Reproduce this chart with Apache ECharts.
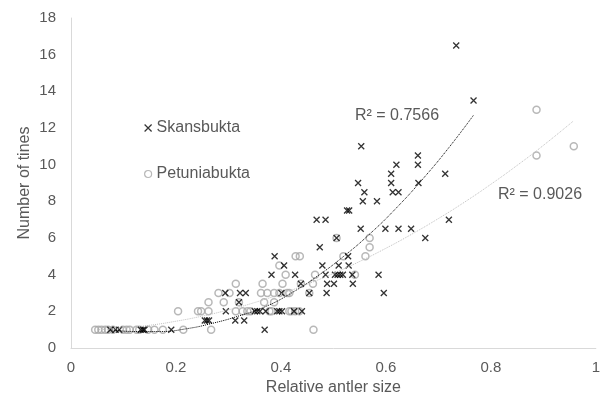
<!DOCTYPE html>
<html>
<head>
<meta charset="utf-8">
<script src="https://cdn.jsdelivr.net/npm/echarts@6/dist/echarts.min.js"></script>
<style>
  html, body { margin: 0; padding: 0; background: #fff; }
  #chart { width: 603px; height: 401px; }
</style>
</head>
<body>
<div id="chart"></div>
<script>
// Skansbukta (crosses)
var skX = [0.075,0.085,0.092,0.133,0.137,0.140,0.191,0.369,
  0.255,0.259,0.263,0.313,0.330,
  0.295,0.350,0.355,0.360,0.371,0.393,0.397,0.402,0.425,0.440,
  0.320,
  0.294,0.322,0.333,0.401,0.454,0.487,0.596,
  0.438,0.488,0.501,0.537,
  0.382,0.427,0.485,0.503,0.508,0.513,0.518,0.536,0.586,
  0.406,0.479,0.510,0.529,
  0.388,0.528,
  0.474,
  0.506,0.675,
  0.552,0.599,0.624,0.648,
  0.468,0.485,0.720,
  0.526,0.530,
  0.556,0.583,
  0.559,0.613,0.624,
  0.547,0.610,0.662,
  0.610,0.713,
  0.620,0.661,
  0.661,
  0.553,
  0.767,
  0.734];
var skY = [1,1,1,1,1,1,1,1,
  1.5,1.5,1.5,1.5,1.5,
  2,2,2,2,2,2,2,2,2,2,
  2.5,
  3,3,3,3,3,3,3,
  3.5,3.5,3.5,3.5,
  4,4,4,4,4,4,4,4,4,
  4.5,4.5,4.5,4.5,
  5,5,
  5.5,
  6,6,
  6.5,6.5,6.5,6.5,
  7,7,7,
  7.5,7.5,
  8,8,
  8.5,8.5,8.5,
  9,9,9,
  9.5,9.5,
  10,10,
  10.5,
  11,
  13.5,
  16.5];

// Petuniabukta (circles)
var ptX = [0.046,0.052,0.058,0.065,0.071,0.080,0.099,0.106,0.112,0.125,0.130,0.147,0.159,0.175,0.214,0.267,0.462,
  0.204,0.242,0.248,0.262,0.314,0.327,0.336,0.342,0.378,0.382,0.416,0.420,0.427,0.435,
  0.262,0.291,0.320,0.368,0.387,
  0.281,0.302,0.362,0.374,0.387,0.397,0.412,0.416,0.454,
  0.314,0.365,0.403,0.438,0.461,
  0.409,0.465,0.541,
  0.397,
  0.428,0.436,0.519,0.561,
  0.569,
  0.506,0.569,
  0.887,0.958,0.887];
var ptY = [1,1,1,1,1,1,1,1,1,1,1,1,1,1,1,1,1,
  2,2,2,2,2,2,2,2,2,2,2,2,2,2,
  2.5,2.5,2.5,2.5,2.5,
  3,3,3,3,3,3,3,3,3,
  3.5,3.5,3.5,3.5,3.5,
  4,4,4,
  4.5,
  5,5,5,5,
  5.5,
  6,6,
  10.5,11,13];

// trend lines
var skTrendX = [0.074,0.12,0.17,0.22,0.27,0.32,0.37,0.42,0.47,0.52,0.57,0.62,0.67,0.72,0.767];
var skTrendY = [1.0,0.9,0.9,1.05,1.35,1.75,2.25,3.0,3.93,5.01,6.24,7.64,9.21,10.93,12.7];
var ptTrendX = [0.05,0.1,0.15,0.2,0.25,0.3,0.35,0.4,0.45,0.5,0.55,0.6,0.65,0.7,0.75,0.8,0.85,0.9,0.958];
var ptTrendY = [1.0,1.09,1.24,1.46,1.74,2.08,2.48,2.95,3.48,4.07,4.72,5.44,6.22,7.06,7.96,8.93,9.96,11.05,12.4];

var r2Sk = 'R² = 0.7566';
var r2Pt = 'R² = 0.9026';

function pairs(xs, ys) {
  var out = [];
  for (var i = 0; i < xs.length; i++) out.push([xs[i], ys[i]]);
  return out;
}

var crossPath = 'path://M0,0L10,10M10,0L0,10';
var txt = '#595959';
var font = 'Liberation Sans, Arial, sans-serif';
var clear = 'rgba(255,255,255,0)';

var chart = echarts.init(document.getElementById('chart'));
chart.setOption({
  animation: false,
  textStyle: { fontFamily: font, color: txt },
  grid: { left: 71, right: 5, top: 18, bottom: 53 },
  legend: {
    orient: 'vertical',
    left: 139,
    top: 115,
    itemGap: 30,
    itemWidth: 7,
    itemHeight: 7,
    textStyle: { fontSize: 16, color: txt, fontFamily: font },
    data: [
      { name: 'Skansbukta', icon: crossPath,
        itemStyle: { color: clear, borderColor: '#000', borderWidth: 1.2 } },
      { name: 'Petuniabukta', icon: 'circle',
        itemStyle: { color: clear, borderColor: '#a6a6a6', borderWidth: 1.2 } }
    ]
  },
  xAxis: {
    type: 'value',
    min: 0, max: 1, interval: 0.2,
    name: 'Relative antler size',
    nameLocation: 'middle',
    nameGap: 32,
    nameMoveOverlap: false,
    nameTextStyle: { fontSize: 16, color: txt },
    axisLine: { show: true, lineStyle: { color: '#d9d9d9' } },
    axisTick: { show: false },
    splitLine: { show: false },
    axisLabel: { fontSize: 15, color: txt, margin: 12 }
  },
  yAxis: {
    type: 'value',
    min: 0, max: 18, interval: 2,
    name: 'Number of tines',
    nameLocation: 'middle',
    nameGap: 38,
    nameMoveOverlap: false,
    nameTextStyle: { fontSize: 16, color: txt },
    axisLine: { show: true, lineStyle: { color: '#d9d9d9' } },
    axisTick: { show: false },
    splitLine: { show: false },
    axisLabel: { fontSize: 15, color: txt, margin: 15 }
  },
  series: [
    {
      name: 'Petuniabukta',
      type: 'scatter',
      symbol: 'circle',
      symbolSize: 7,
      itemStyle: { color: clear, borderColor: '#a6a6a6', borderWidth: 1.5 },
      data: pairs(ptX, ptY)
    },
    {
      name: 'Skansbukta',
      type: 'scatter',
      symbol: crossPath,
      symbolSize: 6,
      itemStyle: { color: clear, borderColor: '#000', borderWidth: 1.3 },
      data: pairs(skX, skY)
    },
    {
      name: 'Petuniabukta trend',
      type: 'line',
      smooth: true,
      showSymbol: false,
      silent: true,
      lineStyle: { color: '#bfbfbf', width: 1, type: 'dotted' },
      data: pairs(ptTrendX, ptTrendY)
    },
    {
      name: 'Skansbukta trend',
      type: 'line',
      smooth: true,
      showSymbol: false,
      silent: true,
      lineStyle: { color: '#000', width: 1, type: 'dotted' },
      data: pairs(skTrendX, skTrendY)
    }
  ],
  graphic: [
    { type: 'text', left: 355, top: 108,
      style: { text: r2Sk, fontSize: 16, fill: txt, fontFamily: font } },
    { type: 'text', left: 498, top: 187,
      style: { text: r2Pt, fontSize: 16, fill: txt, fontFamily: font } }
  ]
});
</script>
</body>
</html>
